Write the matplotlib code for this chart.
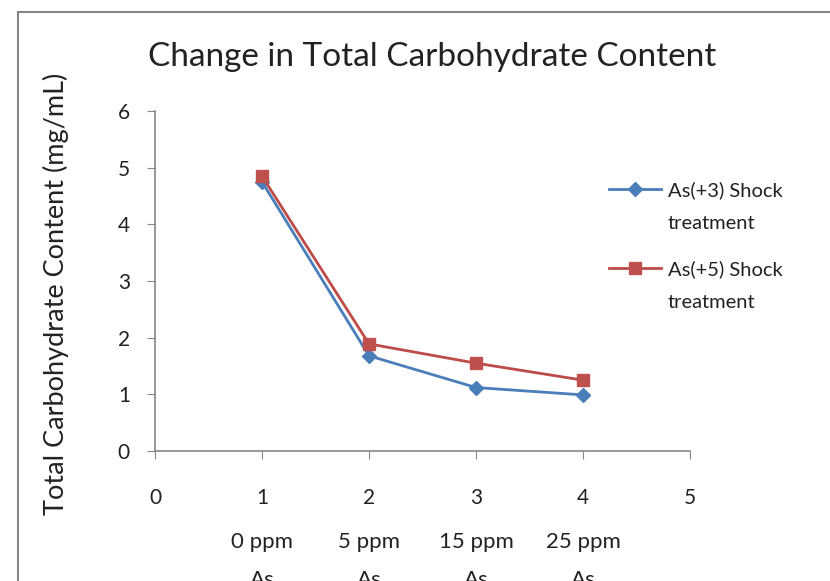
import matplotlib
matplotlib.use('Agg')
import matplotlib.pyplot as plt
from matplotlib.patches import Rectangle

matplotlib.rcParams['font.family'] = ['Lato', 'DejaVu Sans']

# data
x = [1, 2, 3, 4]
as3 = [4.75, 1.68, 1.12, 0.99]
as5 = [4.85, 1.89, 1.55, 1.25]
categories = ['0 ppm\nAs', '5 ppm\nAs', '15 ppm\nAs', '25 ppm\nAs']
series_names = ['As(+3) Shock', 'As(+5) Shock']
second_line = 'treatment'

W, H = 830, 581
fig = plt.figure(figsize=(8.3, 5.81), dpi=100)
ax = fig.add_axes([155 / W, 1 - 451 / H, (690 - 155) / W, (451 - 111) / H])

grey = '#868686'
txt = '#222222'

# outer chart border (cut off at right and bottom like the original)
fig.patches.append(Rectangle((18 / W, -0.1), 1.2, 1 - 12 / H + 0.1, transform=fig.transFigure,
                             fill=False, edgecolor=grey, linewidth=1.5))

ax.plot(x, as3, color='#4a7ebb', linewidth=2, marker='D', markersize=7,
        markerfacecolor='#4a7ebb', markeredgecolor='#4a7ebb', label=series_names[0])
ax.plot(x, as5, color='#be4b48', linewidth=2, marker='s', markersize=9,
        markerfacecolor='#c0504d', markeredgecolor='#c0504d', label=series_names[1])

ax.set_xlim(0, 5)
ax.set_ylim(0, 6)
ax.set_xticks(range(0, 6))
ax.set_yticks(range(0, 7))
for s in ['top', 'right']:
    ax.spines[s].set_visible(False)
for s in ['left', 'bottom']:
    ax.spines[s].set_color(grey)
    ax.spines[s].set_linewidth(1.2)
ax.tick_params(axis='x', direction='out', length=6, color=grey, pad=21, labelsize=15, labelcolor=txt)
ax.tick_params(axis='y', direction='out', length=6, color=grey, pad=12, labelsize=15, labelcolor=txt)

ax.set_ylabel('Total Carbohydrate Content (mg/mL)', fontsize=19.5, color=txt)
ax.yaxis.set_label_coords(-0.16, 0.462)

fig.text(432 / W, 1 - 57 / H, 'Change in Total Carbohydrate Content', fontsize=24,
         color=txt, ha='center', va='center')

# category names under the tick numbers (bottom line is cut off, as in the original)
for xi, c in zip(x, categories):
    ax.text(xi, -(532 - 451) / (451 - 111), c, transform=ax.get_xaxis_transform(),
            fontsize=16, color=txt, ha='center', va='top', linespacing=2.1)

leg = ax.legend(loc='upper left', bbox_to_anchor=(591 / W, 1 - 163 / H),
                bbox_transform=fig.transFigure, frameon=False, fontsize=14.5,
                handlelength=2.6, handletextpad=0.3, labelspacing=3.05, labelcolor=txt)

# wrapped second line of each legend entry, placed under the first
fig.canvas.draw()
for t in leg.get_texts():
    bb = t.get_window_extent()
    fig.text(bb.x0 / W, ((bb.y0 + bb.y1) / 2 - 33) / H, second_line, fontsize=14.5,
             color=txt, ha='left', va='center')

plt.savefig('out.png', dpi=100)
